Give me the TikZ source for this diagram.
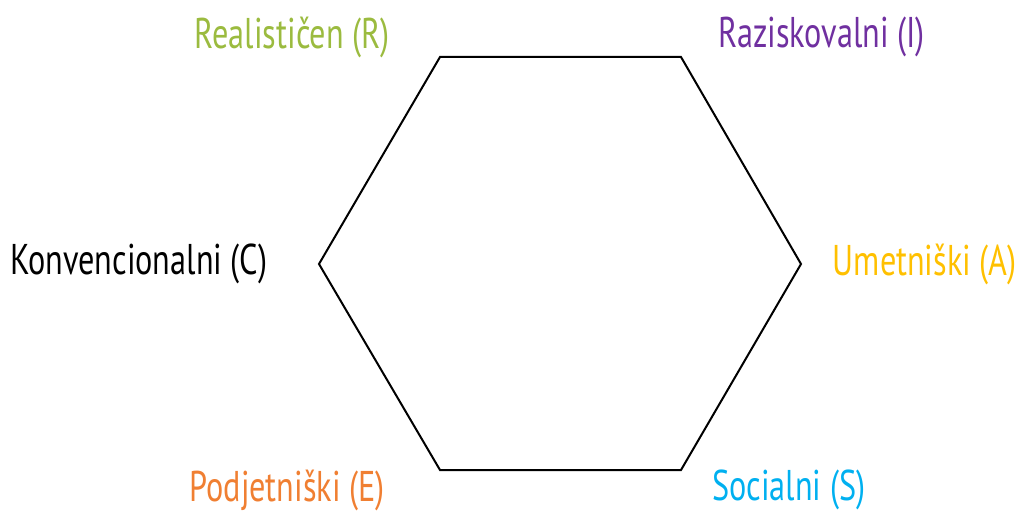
\documentclass[tikz,border=0pt]{standalone}
\usepackage{fontspec}
\setmainfont[FakeStretch=0.75]{PT Sans}
\usepackage{tikz}
\definecolor{rgreen}{HTML}{9BBB3F}
\definecolor{ipurple}{HTML}{7030A0}
\definecolor{ayellow}{HTML}{FFC000}
\definecolor{scyan}{HTML}{00B0F0}
\definecolor{eorange}{HTML}{F07F32}

\begin{document}
\begin{tikzpicture}[x=1pt,y=-1pt]
\tikzset{lbl/.style={inner sep=0pt,font=\fontsize{43}{48}\selectfont}}
\useasboundingbox (0,0) rectangle (1019,513);

% hexagon
\coordinate (hr) at (440,57);
\coordinate (hi) at (681,57);
\coordinate (ha) at (801,264);
\coordinate (hs) at (681,470);
\coordinate (he) at (440,470);
\coordinate (hc) at (319,264);
\draw[color=black,line width=2pt,line join=miter] (hr) -- (hi) -- (ha) -- (hs) -- (he) -- (hc) -- cycle;

% labels
\node[lbl,color=rgreen,anchor=east] (lr) at (390,37) {Realističen (R)};
\node[lbl,color=ipurple,anchor=west] (li) at (718,37) {Raziskovalni (I)};
\node[lbl,color=ayellow,anchor=east] (la) at (1017,264) {Umetniški (A)};
\node[lbl,color=scyan,anchor=west] (ls) at (712,490) {Socialni (S)};
\node[lbl,color=eorange,anchor=east] (le) at (385,490) {Podjetniški (E)};
\node[lbl,color=black,anchor=west] (lc) at (10,264) {Konvencionalni (C)};

\end{tikzpicture}
\end{document}
